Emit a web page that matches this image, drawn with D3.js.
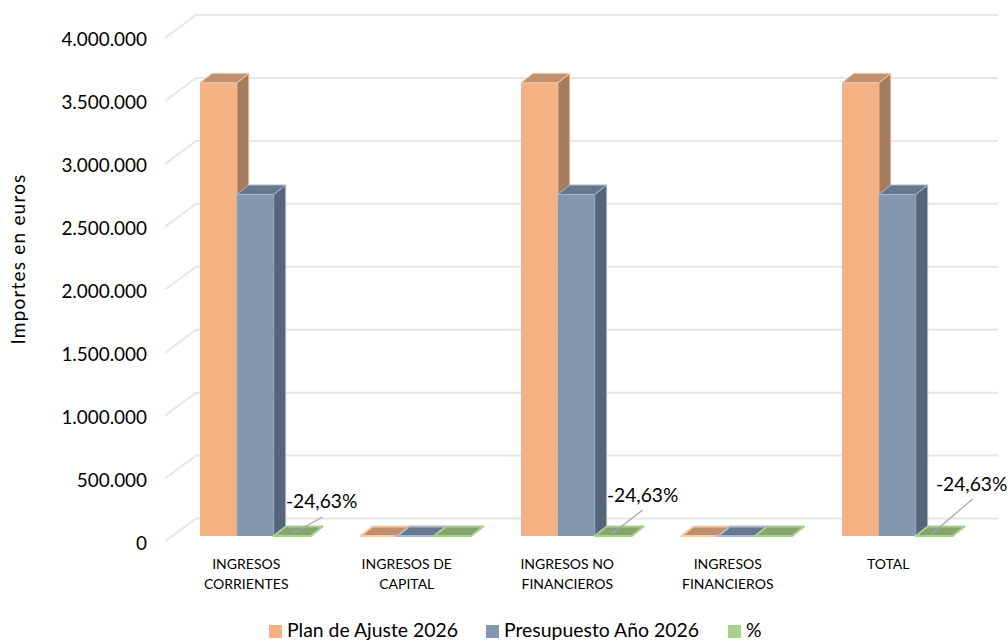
<!DOCTYPE html>
<html>
<head>
<meta charset="utf-8">
<script src="https://cdn.jsdelivr.net/npm/d3@7"></script>
<style>
html,body{margin:0;padding:0;background:#fff}
svg{display:block}
text{font-family:Lato,"Open Sans",sans-serif;fill:#000}
</style>
</head>
<body>
<svg id="c" width="1008" height="641"></svg>
<script>
const categories = [["INGRESOS","CORRIENTES"],["INGRESOS DE","CAPITAL"],["INGRESOS NO","FINANCIEROS"],["INGRESOS","FINANCIEROS"],["TOTAL"]];
const seriesNames = ["Plan de Ajuste 2026","Presupuesto Año 2026","%"];
const planValues = [3600000,0,3600000,0,3600000];
const presupuestoValues = [2713000,0,2713000,0,2713000];
const pctValues = [-24.63,0,-24.63,0,-24.63];
const pctLabels = ["-24,63%",null,"-24,63%",null,"-24,63%"];
const yTicks = [0,500000,1000000,1500000,2000000,2500000,3000000,3500000,4000000];
const palette = [
  {front:"#F4B183",side:"#A67C5E",top:"#C08F6E",edge:"#F8C9A6"},
  {front:"#8497B0",side:"#56657A",top:"#66788F",edge:"#A9B8CC"},
  {front:"#A9D18E",side:"#7D9B68",top:"#84A56F",edge:"#A9D18E"}
];
const labelPos = [{cx:48,y:501,lx:49,ly:517,ex:18,ey:534},null,{cx:48,y:495,lx:48,ly:510,ex:17,ey:534},null,{cx:56,y:484,lx:57,ly:499,ex:16,ey:534}];

const svg = d3.select("#c");
const y = d3.scaleLinear().domain([0,4000000]).range([541.5,38]);
const x = d3.scaleBand().domain(d3.range(categories.length)).range([166,968.5]);
const sx = d3.scaleBand().domain(d3.range(seriesNames.length)).range([34,144.5]);
const wall = {dx:31,dy:-23}, floorOff = -5.5, bar = {dx:12,dy:-9.5};
const fmt = d3.formatLocale({decimal:",",thousands:".",grouping:[3],currency:["","€"]}).format(",d");

// gridlines
const g = svg.append("g").attr("fill","none").attr("stroke","#E6E6E6").attr("stroke-width",2);
yTicks.forEach(t=>{
  const yf = y(t);
  g.append("path").attr("d",`M165,${yf}L${165+wall.dx},${yf+wall.dy}L998,${yf+wall.dy}`);
});

// y axis labels
const ax = svg.append("g").attr("transform","translate(147,1.5)")
  .call(d3.axisLeft(y).tickValues(yTicks).tickSize(0).tickPadding(0).tickFormat(fmt));
ax.select(".domain").remove();
ax.selectAll("text").style("font-size","18.9px").style("font-family","Lato,'Open Sans',sans-serif");

svg.append("text").attr("transform","translate(24.5,259) rotate(-90)")
  .attr("text-anchor","middle").style("font-size","19px").style("letter-spacing","1.2px").text("Importes en euros");

// bars
const data = [planValues,presupuestoValues,pctValues];
categories.forEach((c,i)=>{
  const gr = svg.append("g");
  seriesNames.forEach((s,k)=>{
    const col = palette[k];
    const v = Math.max(0,data[k][i]);
    const x0 = x(i)+sx(k), x1 = x0+sx.bandwidth();
    const yb = y(0)+floorOff, yt = y(v)+floorOff;
    const st = col.edge;
    const b = gr.append("g").attr("stroke",st).attr("stroke-width",v>0?1:1.8).attr("stroke-linejoin","round");
    b.append("path").attr("fill",col.side)
      .attr("d",`M${x1},${yb}L${x1+bar.dx},${yb+bar.dy}L${x1+bar.dx},${yt+bar.dy}L${x1},${yt}Z`);
    b.append("path").attr("fill",col.front).attr("stroke",v>0?"none":st)
      .attr("d",`M${x0},${yb}L${x1},${yb}L${x1},${yt}L${x0},${yt}Z`);
    b.append("path").attr("fill",col.top)
      .attr("d",`M${x0},${yt}L${x1},${yt}L${x1+bar.dx},${yt+bar.dy}L${x0+bar.dx},${yt+bar.dy}Z`);
  });
});

// data labels with leader lines
pctLabels.forEach((t,i)=>{
  if(!t) return;
  const p = labelPos[i], xs = x(i)+sx(2);
  svg.append("line").attr("x1",xs+p.lx).attr("y1",p.ly).attr("x2",xs+p.ex).attr("y2",p.ey)
    .attr("stroke","#A6A6A6").attr("stroke-width",1.2);
  svg.append("text").attr("x",xs+p.cx).attr("y",p.y).attr("dy","0.35em")
    .attr("text-anchor","middle").style("font-size","19.2px").text(t);
});

// category labels
categories.forEach((c,i)=>{
  const cx = x(i)+x.bandwidth()/2;
  c.forEach((line,j)=>{
    svg.append("text").attr("x",cx).attr("y",564+j*20).attr("dy","0.35em")
      .attr("text-anchor","middle").style("font-size","14px").text(line);
  });
});

// legend
const legendX = [269,486,728];
seriesNames.forEach((s,k)=>{
  svg.append("rect").attr("x",legendX[k]).attr("y",625).attr("width",13).attr("height",13).attr("fill",palette[k].front);
  svg.append("text").attr("x",legendX[k]+18).attr("y",636.8).style("font-size","19.4px").text(s);
});
</script>
</body>
</html>
